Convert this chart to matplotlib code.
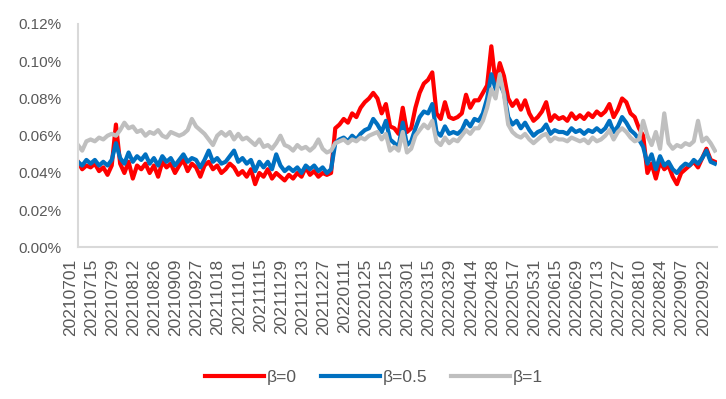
import numpy as np
import matplotlib
matplotlib.use('Agg')
from matplotlib import pyplot as plt
from matplotlib.ticker import FuncFormatter

plt.rcParams['font.family'] = ['Liberation Sans', 'DejaVu Sans']

# tick labels, every 10 trading days
tick_labels = ['20210701', '20210715', '20210729', '20210812', '20210826', '20210909',
               '20210927', '20211018', '20211101', '20211115', '20211129', '20211213',
               '20211227', '20220111', '20220125', '20220215', '20220301', '20220315',
               '20220329', '20220414', '20220428', '20220517', '20220531', '20220615',
               '20220629', '20220713', '20220727', '20220810', '20220824', '20220907',
               '20220922']
n_days = 304  # 20210701 .. 20220927

# values in %, one reading every 2 trading days
beta0 = [0.046, 0.042, 0.044, 0.043, 0.045, 0.041, 0.043, 0.039, 0.044, 0.066,
         0.045, 0.040, 0.046, 0.037, 0.044, 0.042, 0.045, 0.040, 0.044, 0.038,
         0.046, 0.043, 0.045, 0.040, 0.044, 0.047, 0.041, 0.045, 0.043, 0.038,
         0.044, 0.046, 0.042, 0.044, 0.040, 0.042, 0.045, 0.043, 0.039, 0.041,
         0.038, 0.042, 0.034, 0.040, 0.038, 0.042, 0.037, 0.040, 0.038, 0.036,
         0.039, 0.037, 0.040, 0.038, 0.043, 0.039, 0.041, 0.038, 0.040, 0.039,
         0.040, 0.064, 0.066, 0.069, 0.067, 0.072, 0.070, 0.075, 0.078, 0.080,
         0.083, 0.080, 0.072, 0.077, 0.065, 0.064, 0.061, 0.075, 0.062, 0.064,
         0.075, 0.083, 0.088, 0.090, 0.094, 0.072, 0.069, 0.078, 0.070, 0.069,
         0.070, 0.072, 0.082, 0.075, 0.079, 0.079, 0.083, 0.087, 0.108, 0.088,
         0.099, 0.092, 0.080, 0.076, 0.079, 0.074, 0.079, 0.072, 0.068, 0.070,
         0.073, 0.078, 0.068, 0.071, 0.069, 0.070, 0.068, 0.072, 0.069, 0.071,
         0.069, 0.072, 0.070, 0.073, 0.071, 0.073, 0.077, 0.070, 0.074, 0.080,
         0.078, 0.072, 0.070, 0.064, 0.060, 0.040, 0.045, 0.037, 0.046, 0.042,
         0.044, 0.038, 0.034, 0.040, 0.042, 0.044, 0.046, 0.043, 0.048, 0.053,
         0.047, 0.046]

beta05 = [0.046, 0.044, 0.047, 0.045, 0.047, 0.044, 0.046, 0.044, 0.047, 0.056,
          0.048, 0.045, 0.051, 0.046, 0.049, 0.047, 0.050, 0.045, 0.048, 0.044,
          0.049, 0.046, 0.048, 0.044, 0.047, 0.050, 0.046, 0.048, 0.047, 0.043,
          0.047, 0.052, 0.046, 0.048, 0.045, 0.046, 0.049, 0.052, 0.046, 0.048,
          0.045, 0.047, 0.041, 0.046, 0.043, 0.046, 0.042, 0.050, 0.044, 0.041,
          0.043, 0.041, 0.043, 0.040, 0.044, 0.042, 0.044, 0.041, 0.043, 0.040,
          0.042, 0.056, 0.058, 0.059, 0.057, 0.060, 0.058, 0.061, 0.063, 0.064,
          0.069, 0.066, 0.062, 0.068, 0.058, 0.056, 0.054, 0.067, 0.055, 0.057,
          0.064, 0.070, 0.073, 0.072, 0.077, 0.062, 0.060, 0.065, 0.061, 0.062,
          0.061, 0.063, 0.068, 0.065, 0.069, 0.068, 0.072, 0.080, 0.093, 0.085,
          0.088, 0.083, 0.070, 0.066, 0.068, 0.064, 0.067, 0.063, 0.060, 0.062,
          0.063, 0.066, 0.061, 0.063, 0.062, 0.062, 0.061, 0.064, 0.062, 0.063,
          0.061, 0.063, 0.062, 0.064, 0.062, 0.064, 0.068, 0.062, 0.065, 0.070,
          0.067, 0.063, 0.061, 0.058, 0.054, 0.045, 0.050, 0.042, 0.049, 0.044,
          0.046, 0.042, 0.040, 0.043, 0.045, 0.044, 0.047, 0.045, 0.048, 0.052,
          0.046, 0.045]

beta1 = [0.055, 0.052, 0.057, 0.058, 0.057, 0.059, 0.058, 0.060, 0.061, 0.060,
         0.063, 0.067, 0.064, 0.065, 0.062, 0.063, 0.060, 0.062, 0.061, 0.063,
         0.060, 0.059, 0.062, 0.061, 0.060, 0.061, 0.063, 0.069, 0.065, 0.063,
         0.061, 0.058, 0.055, 0.060, 0.062, 0.060, 0.062, 0.058, 0.061, 0.058,
         0.059, 0.057, 0.055, 0.058, 0.054, 0.055, 0.053, 0.056, 0.060, 0.055,
         0.054, 0.052, 0.055, 0.053, 0.054, 0.052, 0.054, 0.058, 0.053, 0.051,
         0.052, 0.056, 0.057, 0.058, 0.056, 0.058, 0.057, 0.059, 0.058, 0.060,
         0.061, 0.062, 0.058, 0.061, 0.052, 0.054, 0.052, 0.062, 0.051, 0.053,
         0.060, 0.063, 0.066, 0.064, 0.068, 0.057, 0.055, 0.059, 0.056, 0.058,
         0.057, 0.060, 0.063, 0.061, 0.064, 0.064, 0.068, 0.075, 0.085, 0.080,
         0.093, 0.082, 0.066, 0.062, 0.060, 0.059, 0.061, 0.058, 0.056, 0.058,
         0.060, 0.061, 0.057, 0.059, 0.058, 0.058, 0.057, 0.059, 0.058, 0.057,
         0.058, 0.056, 0.059, 0.057, 0.058, 0.060, 0.063, 0.058, 0.062, 0.064,
         0.062, 0.059, 0.057, 0.058, 0.068, 0.060, 0.055, 0.062, 0.053, 0.072,
         0.056, 0.053, 0.055, 0.054, 0.056, 0.055, 0.057, 0.068, 0.057, 0.059,
         0.056, 0.052]

x = np.arange(len(beta0)) * 2

fig = plt.figure(figsize=(7.26, 3.99), dpi=100)
ax = fig.add_axes([0.1074, 0.3797, 0.8802, 0.5603])

ax.plot(x, beta0, color='#FF0000', lw=3, label='β=0')
ax.plot(x, beta05, color='#0070C0', lw=3, label='β=0.5')
ax.plot(x, beta1, color='#BFBFBF', lw=3, label='β=1')

ax.set_xlim(0, n_days - 1)
ax.set_ylim(0, 0.12)
ax.set_yticks(np.arange(0, 0.121, 0.02))
ax.yaxis.set_major_formatter(FuncFormatter(lambda v, p: '%.2f%%' % v))
ax.set_xticks(np.arange(len(tick_labels)) * 10)
ax.set_xticklabels(tick_labels, rotation=90, ha='right', va='top')

for s in ['top', 'right']:
    ax.spines[s].set_visible(False)
for s in ['left', 'bottom']:
    ax.spines[s].set_color('#D9D9D9')
    ax.spines[s].set_linewidth(1.5)
ax.tick_params(axis='y', length=0, pad=12, labelsize=11, labelcolor='#595959')
ax.tick_params(axis='x', length=0, pad=8, labelsize=12.5, labelcolor='#595959')

leg = fig.legend(loc='center', bbox_to_anchor=(0.515, 0.055), ncol=3, frameon=False,
                 fontsize=12.5, handlelength=3.4, handletextpad=0.15, columnspacing=1.4)
for t in leg.get_texts():
    t.set_color('#595959')
for l in leg.get_lines():
    l.set_linewidth(3)

fig.savefig('out.png', dpi=100)
